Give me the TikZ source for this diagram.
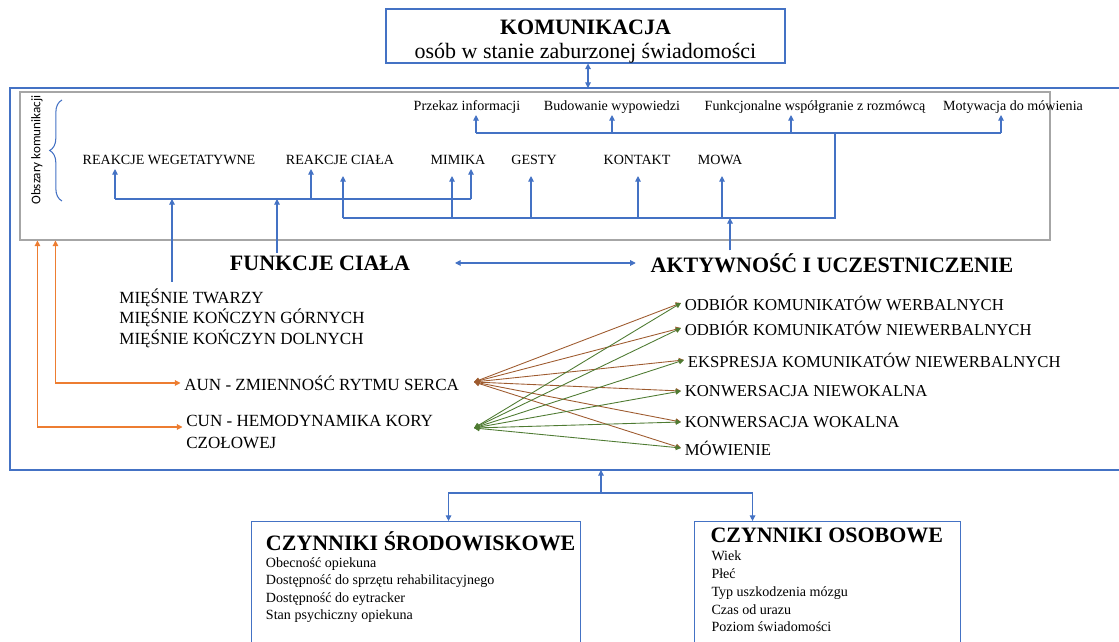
\documentclass[tikz,border=0pt]{standalone}
\usepackage{fontspec}
\setmainfont{Liberation Serif}
\newfontfamily\calibrifont{Carlito}
\usepackage{tikz}
\usetikzlibrary{arrows.meta,decorations.pathreplacing}
\definecolor{lineblue}{HTML}{4472C4}
\definecolor{orangeline}{HTML}{ED7D31}
\definecolor{boxgray}{HTML}{A6A6A6}
\definecolor{brownline}{HTML}{9E5B2F}
\definecolor{greenline}{HTML}{4E7B32}

\begin{document}
\begin{tikzpicture}[
  every node/.style={font=\fontsize{8}{9.6}\selectfont, inner sep=1.5pt},
  catlabel/.style={text height=1.5ex, text depth=.25ex},
  bigtitle/.style={font=\fontsize{12.5}{13.7}\selectfont\bfseries},
  midtext/.style={font=\fontsize{9.7}{11.7}\selectfont, inner sep=2pt, anchor=west, align=left},
  outitem/.style={font=\fontsize{9.5}{11}\selectfont, inner sep=2pt, anchor=west},
  framebox/.style={draw=lineblue, line width=0.6pt},
  bus/.style={lineblue, line width=0.6pt},
  arr/.style={-{Triangle[length=3.2pt, width=3.2pt]}, lineblue, line width=0.6pt},
  arr2/.style={{Triangle[length=3.2pt, width=3.2pt]}-{Triangle[length=3.2pt, width=3.2pt]}, lineblue, line width=0.6pt},
  oarr/.style={{Triangle[length=3.2pt, width=3.2pt]}-{Triangle[length=3.2pt, width=3.2pt]}, orangeline, line width=0.6pt},
  brel/.style={{Triangle[length=3pt, width=3pt]}-{Triangle[length=3pt, width=3pt]}, brownline, line width=0.5pt},
  grel/.style={{Triangle[length=3pt, width=3pt]}-{Triangle[length=3pt, width=3pt]}, greenline, line width=0.5pt}
]
\useasboundingbox (0, 0) rectangle (22.38, 12.82);
\clip (0, 0) rectangle (22.38, 12.82);

% Title
\node[framebox, minimum width=7.98cm, minimum height=1.08cm] (komubox) at (11.71, 12.10) {};
\node[align=center, font=\fontsize{12.5}{13.7}\selectfont] (komu) at (11.71, 11.99) {\textbf{KOMUNIKACJA}\\osób w stanie zaburzonej świadomości};

% Outer frame
\coordinate (frameTL) at (0.2, 11.06);
\coordinate (frameBL) at (0.2, 3.42);
\draw[framebox] (22.5, 11.06) -- (frameTL) -- (frameBL) -- (22.5, 3.42);
\draw[arr2] ([xshift=0.05cm]komubox.south) -- ([xshift=0.05cm]komubox.south |- frameTL);

% Areas of communication
\node[draw=boxgray, line width=0.6pt, minimum width=20.6cm, minimum height=2.96cm] (areas) at (10.70, 9.50) {};
\node[rotate=90, font=\calibrifont\fontsize{7.5}{9}\selectfont] (obszary) at (0.74, 9.82) {Obszary komunikacji};
\draw[lineblue, line width=0.6pt, decorate, decoration={brace, amplitude=7pt}] (1.24, 8.80) -- (1.24, 10.82);

\node[catlabel] (przekaz) at (9.34, 10.72) {Przekaz informacji};
\node[catlabel] (budowanie) at (12.24, 10.72) {Budowanie wypowiedzi};
\node[catlabel] (funkcj) at (16.30, 10.72) {Funkcjonalne współgranie z rozmówcą};
\node[catlabel] (motyw) at (20.26, 10.72) {Motywacja do mówienia};

\node[catlabel] (wege) at (3.38, 9.64) {REAKCJE WEGETATYWNE};
\node[catlabel] (ciala) at (6.80, 9.64) {REAKCJE CIAŁA};
\node[catlabel] (mimika) at (9.16, 9.64) {MIMIKA};
\node[catlabel] (gesty) at (10.68, 9.64) {GESTY};
\node[catlabel] (kontakt) at (12.74, 9.64) {KONTAKT};
\node[catlabel] (mowa) at (14.40, 9.64) {MOWA};

% Buses
\coordinate (upL) at (9.52, 10.16);
\coordinate (upR) at (20.02, 10.16);
\coordinate (g1L) at (2.30, 8.84);
\coordinate (g1R) at (9.42, 8.84);
\coordinate (g2L) at (6.86, 8.46);
\coordinate (g2R) at (16.70, 8.46);
\draw[bus] (upL) -- (upR);
\draw[bus] (g1L) -- (g1R);
\draw[bus] (g2L) -- (g2R) -- (g2R |- upR);

\draw[arr] (upL) -- (upL |- przekaz.south);
\draw[arr] (budowanie.south |- upL) -- (budowanie.south);
\draw[arr] ([xshift=-0.48cm]funkcj.south |- upL) -- ([xshift=-0.48cm]funkcj.south);
\draw[arr] (upR) -- (upR |- motyw.south);

\draw[arr] (g1L) -- (g1L |- wege.south);
\draw[arr] ([xshift=-0.58cm]ciala.south |- g1L) -- ([xshift=-0.58cm]ciala.south);
\draw[arr] (g1R) -- (g1R |- mimika.south);

\draw[arr] (g2L) -- ([yshift=-0.14cm]g2L |- ciala.south);
\draw[arr] ([xshift=-0.12cm]mimika.south |- g2L) -- ([xshift=-0.12cm, yshift=-0.14cm]mimika.south);
\draw[arr] ([xshift=-0.06cm]gesty.south |- g2L) -- ([xshift=-0.06cm, yshift=-0.14cm]gesty.south);
\draw[arr] ([xshift=0.02cm]kontakt.south |- g2L) -- ([xshift=0.02cm, yshift=-0.14cm]kontakt.south);
\draw[arr] ([xshift=0.04cm]mowa.south |- g2L) -- ([xshift=0.04cm, yshift=-0.14cm]mowa.south);

% Body functions and activity
\node[bigtitle] (funkcje) at (6.40, 7.56) {FUNKCJE CIAŁA};
\node[bigtitle] (aktyw) at (16.64, 7.56) {AKTYWNOŚĆ I UCZESTNICZENIE};
\draw[arr2] ([xshift=0.84cm]funkcje.east) -- ([xshift=-0.24cm]aktyw.west);
\draw[arr] ([xshift=-0.86cm]funkcje.north) -- ([xshift=-0.86cm]funkcje.north |- g1L);
\draw[arr] ([xshift=-2.04cm]aktyw.north) -- ([xshift=-2.04cm]aktyw.north |- g2L);

\node[midtext] (miesnie) at (2.31, 6.46) {MIĘŚNIE TWARZY\\MIĘŚNIE KOŃCZYN GÓRNYCH\\MIĘŚNIE KOŃCZYN DOLNYCH};
\draw[arr] ([xshift=1.13cm, yshift=0.06cm]miesnie.north west) -- ([xshift=1.13cm]miesnie.north west |- g1L);

% Measures
\node[midtext] (aun) at (3.61, 5.16) {AUN - ZMIENNOŚĆ RYTMU SERCA};
\node[midtext, font=\fontsize{9.7}{12.5}\selectfont] (cun) at (3.65, 4.18) {CUN - HEMODYNAMIKA KORY\\CZOŁOWEJ};
\draw[oarr] (aun.west) -| ([xshift=0.72cm]areas.south west);
\draw[oarr] ([yshift=0.1cm]cun.west) -| ([xshift=0.36cm]areas.south west);

\coordinate (aunhub) at (9.48, 5.18);
\coordinate (cunhub) at (9.48, 4.26);

\node[outitem] (odbw) at (13.62, 6.76) {ODBIÓR KOMUNIKATÓW WERBALNYCH};
\node[outitem] (odbnw) at (13.62, 6.26) {ODBIÓR KOMUNIKATÓW NIEWERBALNYCH};
\node[outitem] (ekspr) at (13.68, 5.62) {EKSPRESJA KOMUNIKATÓW NIEWERBALNYCH};
\node[outitem] (konwn) at (13.62, 5.00) {KONWERSACJA NIEWOKALNA};
\node[outitem] (konww) at (13.62, 4.38) {KONWERSACJA WOKALNA};
\node[outitem] (mowienie) at (13.62, 3.86) {MÓWIENIE};

\draw[brel] (aunhub) -- (odbw.west);
\draw[brel] (aunhub) -- (odbnw.west);
\draw[brel] (aunhub) -- (ekspr.west);
\draw[brel] (aunhub) -- (konwn.west);
\draw[brel] (aunhub) -- (konww.west);
\draw[brel] (aunhub) -- (mowienie.west);
\draw[grel] (cunhub) -- (odbw.west);
\draw[grel] (cunhub) -- (odbnw.west);
\draw[grel] (cunhub) -- (ekspr.west);
\draw[grel] (cunhub) -- (konwn.west);
\draw[grel] (cunhub) -- (konww.west);
\draw[grel] (cunhub) -- (mowienie.west);

% Context factors
\coordinate (fork) at (12.02, 2.96);
\node[framebox, anchor=north west, minimum width=6.58cm, minimum height=3cm] (envbox) at (5.02, 2.40) {};
\node[framebox, anchor=north west, minimum width=5.32cm, minimum height=3cm] (persbox) at (13.88, 2.40) {};
\node[bigtitle, anchor=west] (envtitle) at (5.26, 2.00) {CZYNNIKI ŚRODOWISKOWE};
\node[anchor=west, align=left, font=\fontsize{8}{9.85}\selectfont] (envlist) at (5.26, 1.02) {Obecność opiekuna\\Dostępność do sprzętu rehabilitacyjnego\\Dostępność do eytracker\\Stan psychiczny opiekuna};
\node[bigtitle, anchor=west] (perstitle) at (14.15, 2.12) {CZYNNIKI OSOBOWE};
\node[anchor=west, align=left, font=\fontsize{8}{10.1}\selectfont] (perslist) at (14.17, 0.99) {Wiek\\Płeć\\Typ uszkodzenia mózgu\\Czas od urazu\\Poziom świadomości};

\draw[arr] (fork) -- (fork |- frameBL);
\draw[arr] (fork) -| ([xshift=0.65cm]envbox.north);
\draw[arr] (fork) -| ([xshift=-1.50cm]persbox.north);

\end{tikzpicture}
\end{document}
